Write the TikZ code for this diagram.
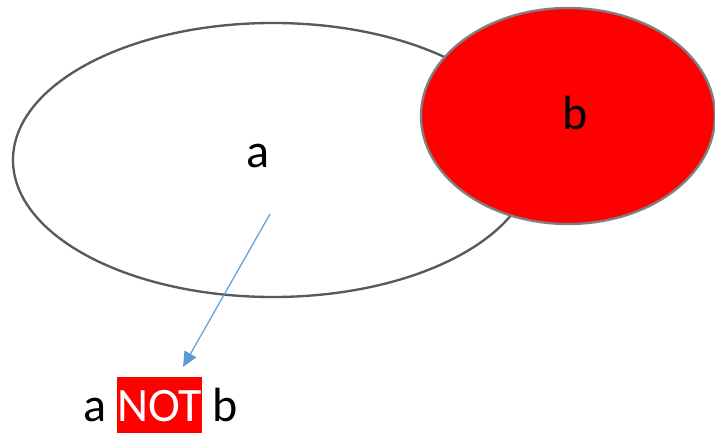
\documentclass[tikz,border=0pt]{standalone}
\usepackage{fontspec}
\setmainfont{Carlito}
\usepackage{xcolor}
\usetikzlibrary{arrows.meta,positioning,shapes.geometric}
\definecolor{setline}{RGB}{89,89,89}
\definecolor{setgray}{RGB}{127,127,127}
\definecolor{setred}{RGB}{255,0,0}
\definecolor{arrowblue}{RGB}{91,155,213}

\begin{document}
\begin{tikzpicture}[
  x=0.03cm, y=-0.03cm,
  font=\fontsize{41}{49}\selectfont,
  setshape/.style={ellipse, inner sep=0pt, line width=2pt},
  word/.style={inner sep=0pt},
  link/.style={draw=arrowblue, line width=1pt, -{Triangle[length=0.45cm, width=0.4cm]}}
]
\useasboundingbox (0,0) rectangle (715,433);
\node[setshape, draw=setline, fill=white, minimum width=15.6cm, minimum height=8.22cm] (seta) at (273,160) {};
\node[setshape, draw=setgray, fill=setred, minimum width=8.82cm, minimum height=6.48cm] (setb) at (568,116) {};
\node[word] (alabel) at (258,156) {a};
\node[word] (blabel) at (575,113) {b};
% result line
\node[word, fill=setred, text=white, text height=1.35cm, text depth=0.33cm, anchor=base] (notbox) at (159.5,422) {NOT};
\node[word, base left=0.3cm of notbox.base west] (aword) {a};
\node[word, base right=0.3cm of notbox.base east] (bword) {b};
\coordinate (from) at (270,214);
\coordinate (to) at (183,367);
\draw[link] (from) -- (to);
\end{tikzpicture}
\end{document}
